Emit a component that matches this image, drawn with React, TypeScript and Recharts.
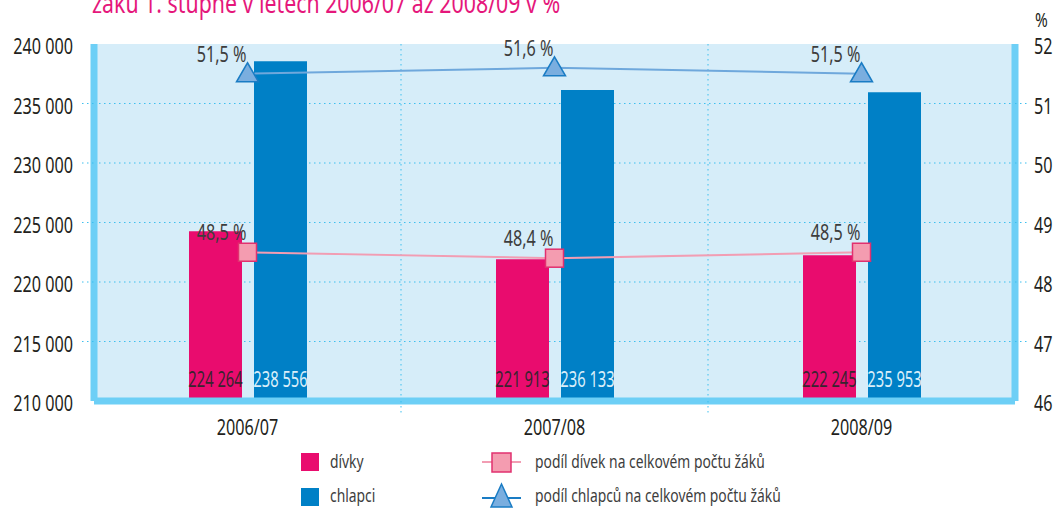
import React from 'react';
import {
  ComposedChart,
  Bar,
  Line,
  XAxis,
  YAxis,
  CartesianGrid,
  LabelList,
} from 'recharts';

const FONT = "'Noto Sans', 'Open Sans', sans-serif";
const SX = 0.77; // horizontal squeeze, the original uses a condensed face

// values
const years = ['2006/07', '2007/08', '2008/09'];
const girls = [224264, 221913, 222245];
const boys = [238556, 236133, 235953];
const girlsShare = [48.5, 48.4, 48.5];
const boysShare = [51.5, 51.6, 51.5];
const leftTicks = [210000, 215000, 220000, 225000, 230000, 235000, 240000];
const rightTicks = [46, 47, 48, 49, 50, 51, 52];

const title = 'žáků 1. stupně v letech 2006/07 až 2008/09 v %';
const legendBars = ['dívky', 'chlapci'];
const legendLines = ['podíl dívek na celkovém počtu žáků', 'podíl chlapců na celkovém počtu žáků'];

const data = years.map((year, i) => ({
  year,
  girls: girls[i],
  boys: boys[i],
  girlsShare: girlsShare[i],
  boysShare: boysShare[i],
}));

const MAGENTA = '#e90c6e';
const BLUE = '#0080c6';
const BORDER = '#6dcff6';
const GRID = '#3dbfee';
const TEXT = '#231f20';

const fmtNum = (v: number) => String(v).replace(/\B(?=(\d{3})+(?!\d))/g, ' ');
const fmtPct = (v: number) => v.toFixed(1).replace('.', ',') + ' %';

// text squeezed horizontally around its anchor point
const CText = ({ x, y, anchor = 'start', size, fill = TEXT, sx = SX, children }: any) => (
  <text
    transform={`translate(${x},${y}) scale(${sx},1)`}
    x={0}
    y={0}
    textAnchor={anchor}
    fontSize={size}
    fontFamily={FONT}
    fill={fill}
  >
    {children}
  </text>
);

// dotted tick marks only between the end ticks
const LeftTick = (props: any) => {
  const { x, y, payload, index } = props;
  const inner = index > 0 && index < leftTicks.length - 1;
  return (
    <g>
      {inner && <line x1={x - 12} x2={x} y1={y} y2={y} stroke={GRID} strokeDasharray="1.5 3.5" />}
      <CText x={x - 21} y={y + 10} anchor="end" size={21}>{fmtNum(payload.value)}</CText>
    </g>
  );
};

const RightTick = (props: any) => {
  const { x, y, payload, index } = props;
  const inner = index > 0 && index < rightTicks.length - 1;
  return (
    <g>
      {inner && <line x1={x} x2={x + 12} y1={y} y2={y} stroke={GRID} strokeDasharray="1.5 3.5" />}
      <CText x={x + 19} y={y + 10} anchor="start" size={21}>{payload.value}</CText>
    </g>
  );
};

const SquareDot = (props: any) => {
  const { cx, cy, index } = props;
  if (cx == null || cy == null) return null;
  return (
    <rect key={'sq' + index} x={cx - 9} y={cy - 9} width={18} height={18} fill="#f49cb0" stroke="#e1306f" strokeWidth={1.5} />
  );
};

const TriangleDot = (props: any) => {
  const { cx, cy, index } = props;
  if (cx == null || cy == null) return null;
  return (
    <path
      key={'tr' + index}
      d={`M${cx},${cy - 11} L${cx + 11},${cy + 8} L${cx - 11},${cy + 8} Z`}
      fill="#7aaedf"
      stroke="#1a7cc4"
      strokeWidth={1.5}
    />
  );
};

const ShareLabel = (props: any) => {
  const { x, y, value } = props;
  return (
    <CText x={x - 1} y={y - 12} anchor="end" size={21} fill="#3d3d3d">
      {fmtPct(value)}
    </CText>
  );
};

const makeBarLabel = (color: string) => (props: any) => {
  const { x, y, width, height, value } = props;
  return (
    <CText x={x + width / 2} y={y + height - 14} anchor="middle" size={22} sx={0.67} fill={color}>
      {fmtNum(value)}
    </CText>
  );
};

const YearTick = (props: any) => {
  const { x, y, payload, index } = props;
  const half = payload && payload.offset ? payload.offset : 153.5;
  return (
    <g>
      {index < years.length - 1 && (
        <line x1={x + half} x2={x + half} y1={y} y2={y + 12} stroke={GRID} strokeDasharray="1.5 3.5" />
      )}
      <CText x={x} y={y + 34} anchor="middle" size={21}>{payload.value}</CText>
    </g>
  );
};

export default function App() {
  return (
    <div style={{ position: 'absolute', left: 0, top: 0, width: 1056, height: 508, background: '#fff', overflow: 'hidden' }}>
      <ComposedChart
        width={1056}
        height={508}
        data={data}
        margin={{ top: 44, right: 0, bottom: 0, left: 0 }}
        barSize={53}
        barGap={12}
      >
        <CartesianGrid
          yAxisId="left"
          fill="#d6edf9"
          fillOpacity={1}
          stroke={GRID}
          strokeDasharray="1.5 3.5"
          horizontalCoordinatesGenerator={({ offset }: any) =>
            [1, 2, 3, 4, 5].map((i) => offset.top + (offset.height * i) / 6)
          }
          verticalCoordinatesGenerator={({ offset }: any) =>
            [1, 2].map((i) => offset.left + (offset.width * i) / 3)
          }
        />
        <YAxis
          yAxisId="left"
          orientation="left"
          width={94}
          domain={[210000, 240000]}
          ticks={leftTicks}
          interval={0}
          allowDataOverflow
          axisLine={{ stroke: BORDER, strokeWidth: 7 }}
          tickLine={false}
          tickSize={0}
          tickMargin={0}
          tick={LeftTick}
        />
        <YAxis
          yAxisId="right"
          orientation="right"
          width={41}
          domain={[46, 52]}
          ticks={rightTicks}
          interval={0}
          axisLine={{ stroke: BORDER, strokeWidth: 7 }}
          tickLine={false}
          tickSize={0}
          tickMargin={0}
          tick={RightTick}
        />
        <Bar yAxisId="left" dataKey="girls" fill={MAGENTA} isAnimationActive={false}>
          <LabelList dataKey="girls" content={makeBarLabel('#3a2330')} />
        </Bar>
        <Bar yAxisId="left" dataKey="boys" fill={BLUE} isAnimationActive={false}>
          <LabelList dataKey="boys" content={makeBarLabel('#d9eef9')} />
        </Bar>
        <Line
          yAxisId="right"
          dataKey="girlsShare"
          stroke="#f29db3"
          strokeWidth={2}
          dot={SquareDot}
          activeDot={false}
          isAnimationActive={false}
        >
          <LabelList dataKey="girlsShare" content={ShareLabel} />
        </Line>
        <Line
          yAxisId="right"
          dataKey="boysShare"
          stroke="#6fa8dc"
          strokeWidth={2}
          dot={TriangleDot}
          activeDot={false}
          isAnimationActive={false}
        >
          <LabelList dataKey="boysShare" content={ShareLabel} />
        </Line>
        <XAxis
          dataKey="year"
          height={107}
          axisLine={{ stroke: BORDER, strokeWidth: 7 }}
          tickLine={false}
          tickSize={0}
          tickMargin={0}
          interval={0}
          tick={YearTick}
        />
      </ComposedChart>
      <svg width={1056} height={508} style={{ position: 'absolute', left: 0, top: 0, pointerEvents: 'none' }}>
        <CText x={92} y={13} size={27} sx={0.79} fill="#e5177b">{title}</CText>
        <CText x={1035} y={27} size={20}>%</CText>
        <rect x={301} y={453} width={18} height={18} fill={MAGENTA} />
        <CText x={330} y={468} size={18} fill="#3d3d3d">{legendBars[0]}</CText>
        <rect x={301} y={488} width={18} height={18} fill={BLUE} />
        <CText x={330} y={502} size={18} fill="#3d3d3d">{legendBars[1]}</CText>
        <line x1={482} x2={521} y1={462} y2={462} stroke="#f29db3" strokeWidth={2} />
        <rect x={492} y={453} width={19} height={19} fill="#f49cb0" stroke="#e1306f" strokeWidth={1.5} />
        <CText x={535} y={468} size={18} fill="#3d3d3d">{legendLines[0]}</CText>
        <line x1={482} x2={521} y1={498} y2={498} stroke="#1a7cc4" strokeWidth={2} />
        <path d="M501.5,484 L512,507 L491,507 Z" fill="#7aaedf" stroke="#1a7cc4" strokeWidth={1.5} />
        <CText x={535} y={502} size={18} fill="#3d3d3d">{legendLines[1]}</CText>
      </svg>
    </div>
  );
}
